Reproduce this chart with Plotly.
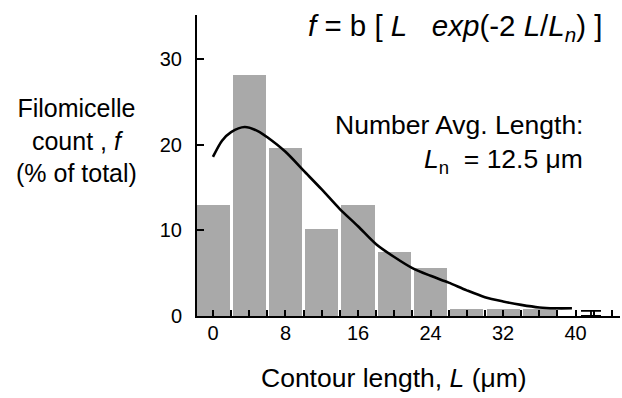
import plotly.graph_objects as go

# ---- data ----
bin_centers = [0, 4, 8, 12, 16, 20, 24, 28, 32, 36]
bin_counts = [13.0, 28.2, 19.7, 10.2, 13.0, 7.5, 5.6, 0.8, 0.8, 0.8]

fit_L = [0.0, 1.0, 2.0, 3.5, 5.0, 6.0, 8.0, 10.0, 12.0, 14.0, 16.0, 18.0,
         20.0, 22.0, 24.0, 26.0, 28.0, 30.0, 32.0, 34.0, 36.0, 37.7, 39.6]
fit_f = [18.6, 20.5, 21.5, 22.1, 21.6, 20.9, 19.2, 17.0, 14.8, 12.5, 10.5, 8.4,
         6.9, 5.6, 4.7, 3.9, 3.0, 2.2, 1.7, 1.3, 1.0, 0.9, 0.9]

tail_L = [41.7]
tail_f = [0.6]

x_tickvals = list(range(0, 46, 2))
x_ticktext = [str(v) if v % 8 == 0 and v <= 40 else "" for v in x_tickvals]
y_tickvals = [0, 10, 20, 30]
y_ticktext = ["0", "10", "20", "30"]

# ---- layout geometry (pixels) ----
W, H = 622, 398
L_PX, R_PX, T_PX, B_PX = 197, 620, 15, 316


def px(xp):
    return (xp - L_PX) / (R_PX - L_PX)


def py(yp):
    return (B_PX - yp) / (B_PX - T_PX)


FONT = "Liberation Sans, Arial, Helvetica, sans-serif"

fig = go.Figure()
fig.add_trace(go.Bar(
    x=bin_centers, y=bin_counts, width=3.65,
    marker=dict(color="#a9a9a9", line=dict(width=0)),
    showlegend=False,
))
fig.add_trace(go.Scatter(
    x=fit_L, y=fit_f, mode="lines",
    line=dict(color="black", width=2.6, shape="spline", smoothing=0.8),
    showlegend=False,
))
fig.add_trace(go.Scatter(
    x=tail_L, y=tail_f, mode="markers",
    marker=dict(size=1, color="rgba(0,0,0,0)"),
    error_y=dict(type="data", symmetric=False, array=[0], arrayminus=tail_f,
                 color="black", thickness=1.8, width=10),
    showlegend=False,
))

fig.update_layout(
    width=W, height=H,
    margin=dict(l=L_PX, r=W - R_PX, t=T_PX, b=H - B_PX),
    paper_bgcolor="white", plot_bgcolor="white",
    font=dict(family=FONT, color="black", size=20),
    bargap=0,
    xaxis=dict(
        range=[-1.76, 44.9], showgrid=False, zeroline=False,
        showline=True, linecolor="black", linewidth=2,
        ticks="inside", ticklen=6, tickwidth=1.5, tickcolor="black",
        tickmode="array", tickvals=x_tickvals, ticktext=x_ticktext,
        tickfont=dict(size=20, family=FONT),
        ticklabelstandoff=-2,
    ),
    yaxis=dict(
        range=[0, 35.2], showgrid=False, zeroline=False,
        showline=True, linecolor="black", linewidth=2,
        ticks="inside", ticklen=7, tickwidth=1.5, tickcolor="black",
        tickmode="array", tickvals=y_tickvals, ticktext=y_ticktext,
        tickfont=dict(size=20, family=FONT),
        ticklabelstandoff=9,
    ),
    annotations=[
        dict(xref="paper", yref="paper", x=px(604), y=py(27),
             xanchor="right", yanchor="middle", showarrow=False,
             text="<i>f</i> = b [ <i>L</i>   <i>exp</i>(-2 <i>L</i>/<i>L</i><sub><i>n</i></sub>) ]",
             font=dict(size=29.5, family=FONT)),
        dict(xref="paper", yref="paper", x=px(585), y=py(125),
             xanchor="right", yanchor="middle", showarrow=False,
             text="Number Avg. Length:", font=dict(size=26.5, family=FONT)),
        dict(xref="paper", yref="paper", x=px(585), y=py(161),
             xanchor="right", yanchor="middle", showarrow=False,
             text="<i>L</i><sub>n</sub>  = 12.5 μm", font=dict(size=26.5, family=FONT)),
        dict(xref="paper", yref="paper", x=px(77), y=py(140),
             xanchor="center", yanchor="middle", showarrow=False, align="center",
             text="Filomicelle<br>count , <i>f</i><br>(% of total)",
             font=dict(size=25, family=FONT)),
        dict(xref="paper", yref="paper", x=px(394), y=py(378),
             xanchor="center", yanchor="middle", showarrow=False,
             text="Contour length, <i>L</i> (μm)", font=dict(size=26.5, family=FONT)),
    ],
)

fig.write_html("out.html")
